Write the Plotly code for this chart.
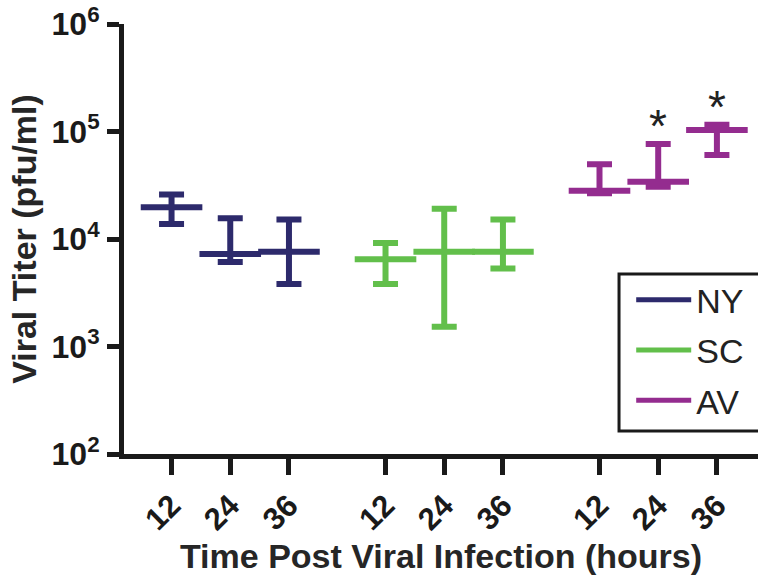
import math
import plotly.graph_objects as go

# ---- data ----
groups = ["NY", "SC", "AV"]
hours = ["12", "24", "36"]
colors = {"NY": "#2d2a6c", "SC": "#62bf4b", "AV": "#942c8f"}

ny_mean = [19700, 7250, 7620]
ny_high = [26000, 15600, 15200]
ny_low = [13800, 6100, 3810]

sc_mean = [6470, 7620, 7620]
sc_high = [9190, 19100, 15200]
sc_low = [3810, 1530, 5330]

av_mean = [28100, 34100, 103300]
av_high = [49500, 76500, 115600]
av_low = [26600, 30700, 60400]

significant = {"AV": [False, True, True]}

series = {
    "NY": (ny_mean, ny_high, ny_low),
    "SC": (sc_mean, sc_high, sc_low),
    "AV": (av_mean, av_high, av_low),
}

GROUP_STEP = 3.645
FONT = "Liberation Sans, Arial, sans-serif"

fig = go.Figure()
tickvals, ticktext = [], []
annotations = []
for g_i, g in enumerate(groups):
    mean, high, low = series[g]
    xs = [g_i * GROUP_STEP + i for i in range(len(hours))]
    tickvals += xs
    ticktext += hours
    fig.add_trace(go.Scatter(
        x=xs, y=mean, mode="markers", showlegend=False,
        marker=dict(symbol="line-ew", size=44, color=colors[g],
                    line=dict(color=colors[g], width=6)),
        error_y=dict(type="data", symmetric=False,
                     array=[h - m for h, m in zip(high, mean)],
                     arrayminus=[m - l for m, l in zip(mean, low)],
                     color=colors[g], thickness=6, width=12.5),
    ))
    for i, flag in enumerate(significant.get(g, [])):
        if flag:
            annotations.append(dict(x=xs[i], y=math.log10(high[i]),
                                    xref="x", yref="y", text="*", showarrow=False,
                                    yanchor="middle", yshift=18,
                                    font=dict(family=FONT, size=46, color="#222")))

# legend entries
for g in groups:
    fig.add_trace(go.Scatter(x=[None], y=[None], mode="lines", name=g,
                             legendgroup=g,
                             line=dict(color=colors[g], width=5)))

fig.update_layout(
    width=758, height=583,
    margin=dict(l=124, r=0, t=24, b=129),
    paper_bgcolor="white", plot_bgcolor="white",
    font=dict(family=FONT, color="#222"),
    showlegend=True,
    legend=dict(x=0.80, y=0.425, xanchor="left", yanchor="top",
                bgcolor="rgba(0,0,0,0)", borderwidth=0,
                font=dict(family=FONT, size=34, color="#222"),
                itemwidth=55, tracegroupgap=3),
    annotations=annotations,
    shapes=[dict(type="rect", xref="paper", yref="paper",
                 x0=0.7808, x1=1.2, y0=0.0535, y1=0.4186,
                 line=dict(color="#1a1a1a", width=3), fillcolor="rgba(0,0,0,0)")],
)

fig.update_xaxes(
    range=[-0.81, 9.99], showgrid=False, zeroline=False,
    showline=True, linewidth=5, linecolor="#1a1a1a",
    ticks="outside", ticklen=16, tickwidth=5, tickcolor="#1a1a1a",
    tickvals=tickvals, ticktext=["<b>%s</b>" % t for t in ticktext], tickangle=-45,
    tickfont=dict(family=FONT, size=31, color="#1a1a1a"),
    title=dict(text="<b>Time Post Viral Infection (hours)</b>",
               font=dict(family=FONT, size=34, color="#262626"), standoff=9),
)
fig.update_yaxes(
    type="log", range=[2, 6], showgrid=False, zeroline=False,
    showline=True, linewidth=5, linecolor="#1a1a1a",
    ticks="outside", ticklen=12, tickwidth=5, tickcolor="#1a1a1a",
    tickvals=[1e2, 1e3, 1e4, 1e5, 1e6],
    ticktext=["<b>10<sup>2</sup></b>", "<b>10<sup>3</sup></b>", "<b>10<sup>4</sup></b>",
              "<b>10<sup>5</sup></b>", "<b>10<sup>6</sup></b>"],
    tickfont=dict(family=FONT, size=32, color="#1a1a1a"),
    ticklabelstandoff=1,
    title=dict(text="<b>Viral Titer (pfu/ml)</b>",
               font=dict(family=FONT, size=34, color="#262626"), standoff=6),
)

fig.write_html("out.html")
